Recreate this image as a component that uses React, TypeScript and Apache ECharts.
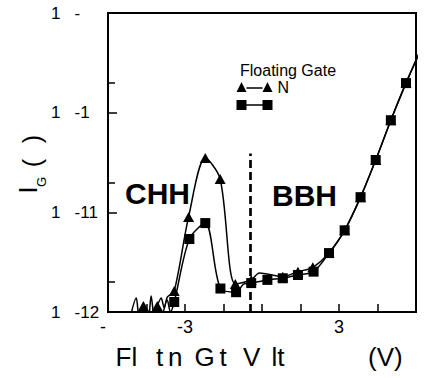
import React, { useEffect, useRef } from 'react';
import * as echarts from 'echarts';

// ---- data (Floating gate voltage in V, gate current I_G in A) ----
const triX = [-4.62, -4.08, -3.42, -2.86, -2.21, -1.63, -1.04, -0.42, 0.81, 1.40, 1.98, 2.61, 3.22, 3.84, 4.43, 5.02, 5.61];
const triI = [1.15e-12, 1.15e-12, 1.62e-12, 9.0e-12, 3.5e-11, 2.16e-11, 1.91e-12, 2.1e-12, 2.26e-12, 2.54e-12, 2.81e-12, 3.9e-12, 6.6e-12, 1.42e-11, 3.35e-11, 8.4e-11, 1.98e-10];
// unmarked trace points of the same curve (noise near the floor, continuation past the frame)
const triTraceX = [-5.14, -4.9, -4.79, -4.43, -4.32, -4.2, -3.93, -3.81, -3.69, -0.1, 6.39];
const triTraceI = [8.7e-13, 1.38e-12, 9.1e-13, 8.7e-13, 1.45e-12, 9.1e-13, 1.38e-12, 1.1e-12, 1.41e-12, 2.46e-12, 5.6e-10];

const sqX = [-3.42, -2.83, -2.21, -1.62, -1.01, -0.42, 0.21, 0.81, 1.40, 2.01, 2.61, 3.22, 3.84, 4.43, 5.02, 5.61];
const sqI = [1.26e-12, 5.4e-12, 7.8e-12, 1.72e-12, 1.58e-12, 1.95e-12, 2.1e-12, 2.18e-12, 2.35e-12, 2.54e-12, 3.9e-12, 6.6e-12, 1.42e-11, 3.35e-11, 8.4e-11, 1.98e-10];
const sqTraceX = [-3.89, -3.69, -3.57, -0.72, 6.39];
const sqTraceI = [8.7e-13, 1.32e-12, 1.0e-12, 1.9e-12, 5.6e-10];

const xTickValues = [-6, -3, 3];
const xTickTexts = ['-\u2007', '-3', '3'];
const yTickValues = [1e-12, 1e-11, 1e-10, 1e-9];
const yTickTexts = ['1\u00a0\u00a0\u00a0-12', '1\u00a0\u00a0\u00a0-11', '1\u00a0\u00a0\u00a0-1', '1\u00a0\u00a0\u00a0-'];
const yMinorTicks = [2e-12, 2e-11, 2e-10];

const boundaryX = -0.45;
const boundaryTop = 3.9e-11;

const FONT = '"Liberation Sans", Arial, Helvetica, sans-serif';

const TRI_ICON = 'path://M0,10 L5,0 L10,10 Z M10,5.3 L26,5.3 L26,6.7 L10,6.7 Z M26,10 L31,0 L36,10 Z';
const SQ_ICON = 'path://M0,0 L10,0 L10,10 L0,10 Z M10,4.3 L26,4.3 L26,5.7 L10,5.7 Z M26,0 L36,0 L36,10 L26,10 Z';

function buildLine(mx: number[], my: number[], tx: number[], ty: number[]) {
  const pts: any[] = [
    ...mx.map((x, i) => ({ value: [x, my[i]] })),
    ...tx.map((x, i) => ({ value: [x, ty[i]], symbol: 'none' })),
  ];
  pts.sort((a, b) => a.value[0] - b.value[0]);
  return pts;
}

function findLabel(values: number[], texts: string[], v: number, log: boolean) {
  const i = values.findIndex((t) =>
    log ? Math.abs(Math.log10(t) - Math.log10(v)) < 1e-6 : Math.abs(t - v) < 1e-9
  );
  return i >= 0 ? texts[i] : '';
}

export default function App() {
  const ref = useRef<HTMLDivElement>(null);

  useEffect(() => {
    if (!ref.current) return;
    const chart = echarts.init(ref.current, null, { renderer: 'svg' });

    const txt = (text: string, x: number, y: number, size: number, extra: any = {}) => ({
      type: 'text',
      x,
      y,
      style: {
        text,
        x: 0,
        y: 0,
        fontFamily: FONT,
        fontSize: size,
        fill: '#000',
        align: 'left',
        verticalAlign: 'middle',
        ...extra,
      },
    });

    const option: any = {
      animation: false,
      backgroundColor: '#fff',
      textStyle: { fontFamily: FONT },
      grid: {
        left: 108,
        right: 13,
        top: 13,
        bottom: 66,
        show: true,
        borderColor: '#000',
        borderWidth: 2,
        backgroundColor: 'transparent',
      },
      legend: {
        orient: 'vertical',
        left: 236.5,
        top: 79,
        padding: 0,
        itemWidth: 36,
        itemHeight: 10,
        itemGap: 5,
        selectedMode: false,
        itemStyle: { borderWidth: 0 },
        textStyle: { fontFamily: FONT, fontSize: 16, color: '#000', lineHeight: 16 },
        formatter: (name: string) => (name === 'N' ? 'N' : ''),
        data: [
          { name: 'N', icon: TRI_ICON },
          { name: 'P', icon: SQ_ICON },
        ],
      },
      xAxis: {
        type: 'value',
        min: -6,
        max: 6,
        interval: 1.5,
        axisLine: { show: true, onZero: false, lineStyle: { color: '#000', width: 2 } },
        axisTick: { show: true, inside: true, length: 8, lineStyle: { color: '#000', width: 1.5 } },
        axisLabel: {
          margin: 6,
          fontSize: 18,
          color: '#000',
          fontFamily: FONT,
          formatter: (v: number) => findLabel(xTickValues, xTickTexts, v, false),
        },
        splitLine: { show: false },
      },
      yAxis: [
        {
          type: 'log',
          logBase: 10,
          min: 1e-12,
          max: 1e-9,
          position: 'left',
          axisLine: { show: true, onZero: false, lineStyle: { color: '#000', width: 2 } },
          axisTick: {
            show: true,
            inside: true,
            length: 9,
            customValues: yTickValues,
            lineStyle: { color: '#000', width: 1.5 },
          },
          axisLabel: {
            margin: 57,
            align: 'left',
            fontSize: 17,
            color: '#000',
            fontFamily: FONT,
            customValues: yTickValues,
            formatter: (v: number) => findLabel(yTickValues, yTickTexts, v, true),
          },
          splitLine: { show: false },
          minorTick: { show: false },
        },
        {
          type: 'log',
          logBase: 10,
          min: 1e-12,
          max: 1e-9,
          position: 'left',
          axisLine: { show: false, onZero: false },
          axisTick: {
            show: true,
            inside: true,
            length: 7,
            customValues: yMinorTicks,
            lineStyle: { color: '#000', width: 1.5 },
          },
          axisLabel: { show: false },
          splitLine: { show: false },
        },
      ],
      series: [
        {
          name: 'N',
          type: 'line',
          data: buildLine(triX, triI, triTraceX, triTraceI),
          symbol: 'triangle',
          symbolSize: [11, 10],
          smooth: 0.3,
          clip: true,
          color: '#000',
          lineStyle: { color: '#000', width: 1.5 },
          itemStyle: { color: '#000', borderWidth: 0 },
          z: 2,
          markLine: {
            silent: true,
            symbol: ['none', 'none'],
            label: { show: false },
            lineStyle: { color: '#000', width: 2.7, type: [8, 4] },
            data: [[{ coord: [boundaryX, 1e-12] }, { coord: [boundaryX, boundaryTop] }]],
          },
        },
        {
          name: 'P',
          type: 'line',
          data: buildLine(sqX, sqI, sqTraceX, sqTraceI),
          symbol: 'rect',
          symbolSize: 10,
          smooth: 0.3,
          clip: true,
          color: '#000',
          lineStyle: { color: '#000', width: 1.5 },
          itemStyle: { color: '#000', borderWidth: 0 },
          z: 3,
        },
      ],
      graphic: [
        txt('Floating Gate', 240, 70, 16),
        txt('CHH', 125, 193, 30, { fontWeight: 'bold' }),
        txt('BBH', 272, 195, 30, { fontWeight: 'bold' }),
        // y axis title  I_G ( )
        { ...txt('I', 28, 190, 25, { align: 'center' }), rotation: Math.PI / 2 },
        { ...txt('G', 41, 182, 13, { align: 'center' }), rotation: Math.PI / 2 },
        { ...txt('(', 31.5, 163, 25, { align: 'center' }), rotation: Math.PI / 2 },
        { ...txt(')', 31.5, 139, 25, { align: 'center' }), rotation: Math.PI / 2 },
        // x axis title
        txt('Fl', 115.5, 357, 26),
        txt('t', 156, 357, 26),
        txt('n', 168, 357, 26),
        txt('G', 194.4, 357, 26),
        txt('t', 219.5, 357, 26),
        txt('V', 243, 357, 26),
        txt('lt', 271.5, 357, 26),
        txt('(V)', 368, 357, 26),
      ],
    };

    chart.setOption(option);
    return () => chart.dispose();
  }, []);

  return (
    <div
      ref={ref}
      style={{ position: 'fixed', left: 0, top: 0, width: 429, height: 378, background: '#fff' }}
    />
  );
}
